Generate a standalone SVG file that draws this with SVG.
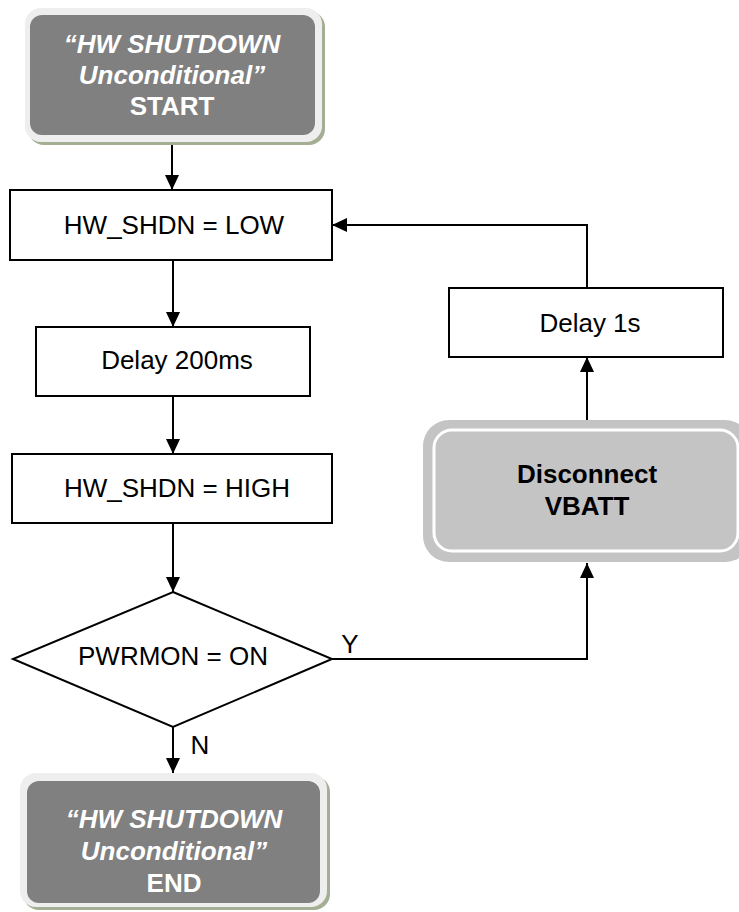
<svg xmlns="http://www.w3.org/2000/svg" width="739" height="912" viewBox="0 0 739 912">
<defs>
<style>
.box{fill:#ffffff;stroke:#000000;stroke-width:2}
.t{font-family:"Liberation Sans",Arial,sans-serif;font-size:26px;fill:#000000;text-anchor:middle}
.tw{font-family:"Liberation Sans",Arial,sans-serif;font-size:26px;font-weight:bold;fill:#ffffff;text-anchor:middle}
.tb{font-family:"Liberation Sans",Arial,sans-serif;font-size:26px;font-weight:bold;fill:#000000;text-anchor:middle}
.line{fill:none;stroke:#000000;stroke-width:2}
.shadow{fill:#a3ae92}
.frame{fill:#eeeeee}
.term{fill:#808080}
</style>
<marker id="arr" viewBox="0 0 15 14" refX="15" refY="7" markerWidth="15" markerHeight="14" markerUnits="userSpaceOnUse" orient="auto">
<path d="M0,0 L15,7 L0,14 Z" fill="#000000"/>
</marker>
</defs>
<rect width="739" height="912" fill="#ffffff"/>
<g id="connectors">
<line class="line" x1="172" y1="144" x2="172" y2="190" marker-end="url(#arr)"/>
<line class="line" x1="173" y1="260" x2="173" y2="327" marker-end="url(#arr)"/>
<line class="line" x1="173" y1="396" x2="173" y2="454" marker-end="url(#arr)"/>
<line class="line" x1="173" y1="523" x2="173" y2="592" marker-end="url(#arr)"/>
<line class="line" x1="173" y1="727" x2="173" y2="773" marker-end="url(#arr)"/>
<polyline class="line" points="332,659 587,659 587,563" marker-end="url(#arr)"/>
<line class="line" x1="587" y1="420" x2="587" y2="357" marker-end="url(#arr)"/>
<polyline class="line" points="587,288 587,225 332,225" marker-end="url(#arr)"/>
<text class="t" x="350" y="653">Y</text>
<text class="t" x="200" y="754">N</text>
</g>
<g id="start">
<rect class="shadow" x="28" y="11" width="297" height="134" rx="16"/>
<rect class="frame" x="25" y="8" width="297" height="134" rx="16"/>
<rect class="term" x="30" y="15" width="285" height="120" rx="12"/>
<text class="tw" x="172" y="53" font-style="italic">“HW SHUTDOWN</text>
<text class="tw" x="172" y="84" font-style="italic">Unconditional”</text>
<text class="tw" x="172" y="115">START</text>
</g>
<g id="low">
<rect class="box" x="10" y="190" width="322" height="70"/>
<text class="t" x="174" y="234">HW_SHDN = LOW</text>
</g>
<g id="delay200">
<rect class="box" x="36" y="327" width="274" height="69"/>
<text class="t" x="177" y="369">Delay 200ms</text>
</g>
<g id="high">
<rect class="box" x="12" y="454" width="320" height="69"/>
<text class="t" x="177" y="497">HW_SHDN = HIGH</text>
</g>
<g id="decision">
<polygon points="173,592 332,659 173,727 13,659" fill="#ffffff" stroke="#000000" stroke-width="2"/>
<text class="t" x="173" y="665">PWRMON = ON</text>
</g>
<g id="end">
<rect class="shadow" x="23" y="776" width="307" height="134" rx="16"/>
<rect class="frame" x="20" y="773" width="307" height="134" rx="16"/>
<rect class="term" x="27" y="781" width="293" height="122" rx="12"/>
<text class="tw" x="174" y="828" font-style="italic">“HW SHUTDOWN</text>
<text class="tw" x="174" y="860" font-style="italic">Unconditional”</text>
<text class="tw" x="174" y="892">END</text>
</g>
<g id="disconnect">
<rect x="423" y="420" width="328" height="142" rx="26" fill="#c4c4c4"/>
<rect x="434" y="430" width="304" height="121" rx="18" fill="#c4c4c4" stroke="#ffffff" stroke-width="3"/>
<text class="tb" x="587" y="483">Disconnect</text>
<text class="tb" x="587" y="515">VBATT</text>
</g>
<g id="delay1">
<rect class="box" x="449" y="288" width="274" height="69"/>
<text class="t" x="590" y="332">Delay 1s</text>
</g>
</svg>
